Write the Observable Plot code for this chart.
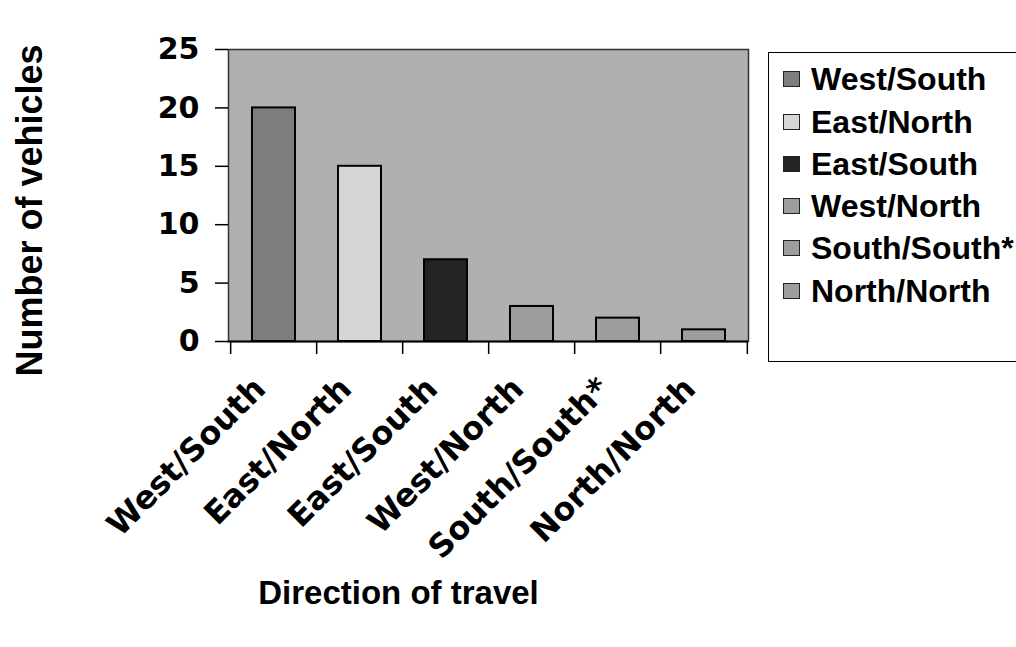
<!DOCTYPE html>
<html><head><meta charset="utf-8">
<script src="https://cdn.jsdelivr.net/npm/d3@7"></script>
<script src="https://cdn.jsdelivr.net/npm/@observablehq/plot@0.6"></script>
<style>
body{margin:0;background:#fff;}
#wrap{position:relative;width:1016px;height:647px;overflow:hidden;font-family:"Liberation Sans",Arial,sans-serif;font-weight:bold;background:#fff;}
#chart{position:absolute;left:0;top:0;}
#legend{position:absolute;left:768px;top:52px;width:280px;height:310px;border:1.5px solid #000;box-sizing:border-box;background:#fff;}
.item{position:absolute;left:14px;height:36px;display:flex;align-items:center;font-size:32px;font-weight:bold;color:#000;white-space:nowrap;}
.sw{width:17px;height:16px;border:1px solid #222;box-sizing:border-box;margin-right:11px;flex:none;}
</style>
</head><body>
<div id="wrap"><div id="chart"></div><div id="legend"></div></div>
<script>
const categories = ["West/South","East/North","East/South","West/North","South/South*","North/North"];
const counts = [20,15,7,3,2,1];
const barColors = ["#7d7d7d","#d6d6d6","#242424","#9d9d9d","#9d9d9d","#9d9d9d"];
const yTicks = [0,5,10,15,20,25];
const yTitle = "Number of vehicles";
const xTitle = "Direction of travel";

const data = categories.map((c,i)=>({category:c, count:counts[i]}));

const W = 760, H = 647, mL = 228, mR = 12, mT = 49, mB = 306;
const step = (W - mL - mR) / categories.length;
const font = "Liberation Sans, Arial, sans-serif";
const wide = "DejaVu Sans, Verdana, sans-serif";

const chart = Plot.plot({
  width: W, height: H,
  marginLeft: mL, marginRight: mR, marginTop: mT, marginBottom: mB,
  style: {fontFamily: font, fontWeight: "bold", background: "transparent", overflow: "visible"},
  x: {domain: categories, paddingInner: 0.5, paddingOuter: 0.25, axis: null},
  y: {domain: [0,25], axis: null},
  color: {domain: categories, range: barColors},
  marks: [
    Plot.frame({fill: "#b0b0b0", stroke: "#333", strokeWidth: 1.5}),
    Plot.barY(data, {x: "category", y: "count", fill: "category", stroke: "#000", strokeWidth: 2}),
    Plot.ruleY([0], {stroke: "#000", strokeWidth: 2}),
    Plot.axisY(yTicks, {tickSize: 13, tickPadding: 16, fontSize: 30, fontFamily: wide, fontWeight: "bold", stroke: "#000", strokeWidth: 1.5, label: null}),
    Plot.axisX(categories, {text: null, tickSize: 13, dx: -step/2, stroke: "#000", strokeWidth: 1.5, label: null}),
    Plot.axisX(categories.slice(-1), {text: null, tickSize: 13, dx: step/2, stroke: "#000", strokeWidth: 1.5, label: null}),
    Plot.axisX(categories, {tickSize: 0, tickPadding: 42, tickRotate: -45, fontSize: 32, fontFamily: wide, fontWeight: "bold", dx: -14, label: null}),
    Plot.text([yTitle], {frameAnchor: "left", textAnchor: "middle", dx: -198, dy: 15, rotate: -90, fontSize: 36, fontWeight: "bold", fill: "#000"}),
    Plot.text([xTitle], {frameAnchor: "bottom", textAnchor: "middle", dx: -90, dy: 262, fontSize: 33, fontWeight: "bold", fill: "#000"})
  ]
});
document.getElementById("chart").appendChild(chart);

const color = chart.scale("color");
const leg = document.getElementById("legend");
const centers = [26, 69, 111, 153, 195, 238];
color.domain.forEach((c,i)=>{
  const it = document.createElement("div");
  it.className = "item";
  it.style.top = (centers[i] - 18) + "px";
  const sw = document.createElement("span");
  sw.className = "sw";
  sw.style.background = color.range[i];
  it.appendChild(sw);
  const t = document.createElement("span");
  t.textContent = c;
  it.appendChild(t);
  leg.appendChild(it);
});
</script>
</body></html>
